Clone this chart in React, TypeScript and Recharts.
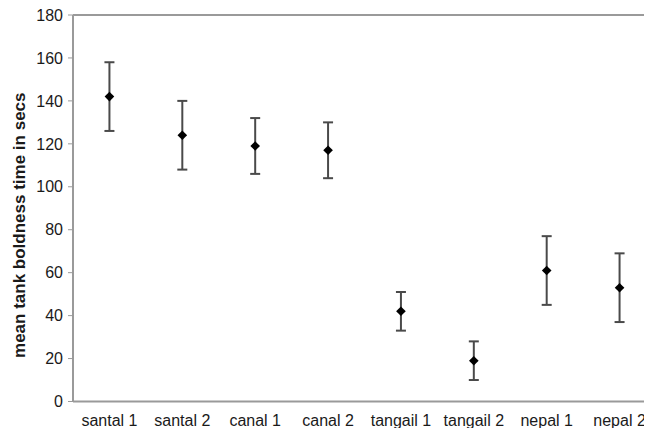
import { ComposedChart, Scatter, ErrorBar, XAxis, YAxis, ReferenceLine } from "recharts";

const categories = ["santal 1", "santal 2", "canal 1", "canal 2", "tangail 1", "tangail 2", "nepal 1", "nepal 2"];
const means = [142, 124, 119, 117, 42, 19, 61, 53];
const errors = [16, 16, 13, 13, 9, 9, 16, 16];
const yTicks = [0, 20, 40, 60, 80, 100, 120, 140, 160, 180];

const data = categories.map((name, i) => ({ pos: i + 0.5, name, mean: means[i], err: errors[i] }));
const labelTicks = categories.map((_, i) => i + 0.5);
const boundaryTicks = [...categories.map((_, i) => i), categories.length];

const axisColor = "#9a9a9a";
const font = "'Liberation Sans', Arial, sans-serif";

const Diamond = (props: any) => {
  const { cx, cy } = props;
  const r = 4.8;
  return <polygon points={`${cx},${cy - r} ${cx + r},${cy} ${cx},${cy + r} ${cx - r},${cy}`} fill="#000" />;
};

const YTitle = (props: any) => {
  const { viewBox } = props;
  const x = viewBox.x + 25;
  const y = viewBox.y + viewBox.height / 2 + 17;
  return (
    <text x={x} y={y} transform={`rotate(-90 ${x} ${y})`} textAnchor="middle" fontSize={17} fontWeight="bold" fill="#1a1a1a" fontFamily={font}>
      mean tank boldness time in secs
    </text>
  );
};

export default function App() {
  return (
    <div style={{ margin: -8, width: 652, height: 436, overflow: "hidden", position: "relative", background: "#fff" }}>
      <ComposedChart width={660} height={436} data={data} margin={{ top: 15, right: 4, bottom: 0, left: 0 }} style={{ fontFamily: font }}>
        <XAxis
          xAxisId="marks"
          dataKey="pos"
          type="number"
          domain={[0, categories.length]}
          ticks={boundaryTicks}
          tickFormatter={() => ""}
          axisLine={false}
          tickSize={4}
          tickLine={{ stroke: "#bdbdbd" }}
          height={1}
        />
        <XAxis
          xAxisId="labels"
          dataKey="pos"
          type="number"
          domain={[0, categories.length]}
          ticks={labelTicks}
          tickFormatter={(v: number) => categories[Math.floor(v)]}
          tickLine={false}
          axisLine={{ stroke: axisColor, strokeWidth: 2 }}
          tick={{ fontSize: 16, fill: "#1a1a1a" }}
          tickMargin={7}
          height={33.5}
        />
        <YAxis
          type="number"
          domain={[0, 180]}
          ticks={yTicks}
          width={73}
          tickSize={5}
          tickMargin={5}
          axisLine={{ stroke: axisColor, strokeWidth: 2 }}
          tickLine={{ stroke: axisColor }}
          tick={{ fontSize: 16, fill: "#1a1a1a" }}
          label={<YTitle />}
        />
        <ReferenceLine y={180} xAxisId="labels" stroke={axisColor} strokeWidth={2} />
        <Scatter xAxisId="labels" dataKey="mean" shape={<Diamond />} isAnimationActive={false}>
          <ErrorBar dataKey="err" direction="y" width={5} stroke="#4a4a4a" strokeWidth={2} />
        </Scatter>
      </ComposedChart>
    </div>
  );
}
